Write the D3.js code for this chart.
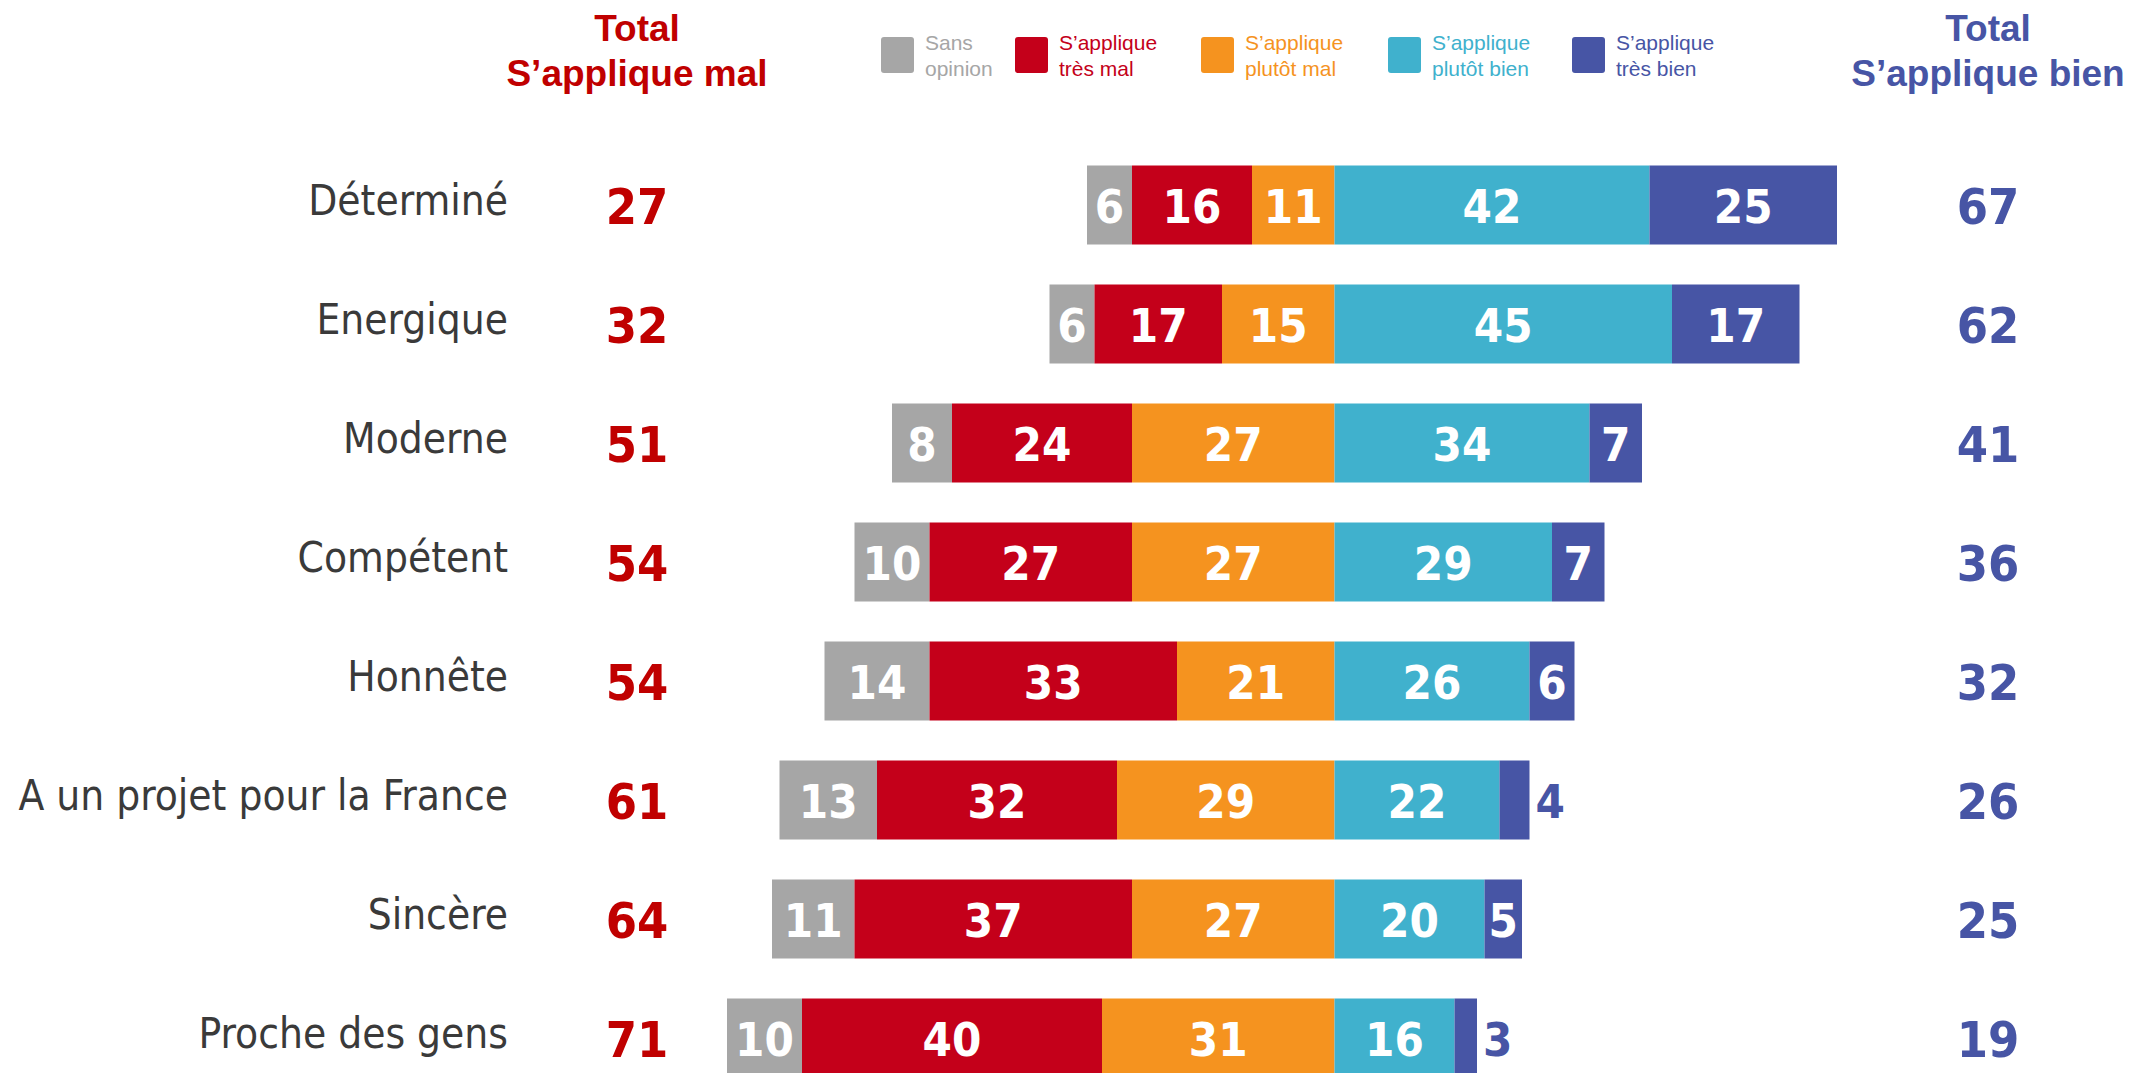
<!DOCTYPE html>
<html>
<head>
<meta charset="utf-8">
<script src="https://cdn.jsdelivr.net/npm/d3@7"></script>
<style>
  body { margin: 0; background: #fff; }
  svg { display: block; }
</style>
</head>
<body>
<div id="viz"></div>
<script>
let w = 2131;
let h = 1073;

// data
let categories = ["Déterminé", "Energique", "Moderne", "Compétent", "Honnête", "A un projet pour la France", "Sincère", "Proche des gens"];
let sansOpinion  = [6, 6, 8, 10, 14, 13, 11, 10];
let tresMal      = [16, 17, 24, 27, 33, 32, 37, 40];
let plutotMal    = [11, 15, 27, 27, 21, 29, 27, 31];
let plutotBien   = [42, 45, 34, 29, 26, 22, 20, 16];
let tresBien     = [25, 17, 7, 7, 6, 4, 5, 3];
let totalMal     = [27, 32, 51, 54, 54, 61, 64, 71];
let totalBien    = [67, 62, 41, 36, 32, 26, 25, 19];

let seriesNames = [["Sans", "opinion"], ["S’applique", "très mal"], ["S’applique", "plutôt mal"], ["S’applique", "plutôt bien"], ["S’applique", "très bien"]];
let colors = ["#a6a6a6", "#c4001a", "#f5931f", "#40b1cd", "#4755a5"];
let legendText = ["#a6a6a6", "#c4001a", "#f5931f", "#40b1cd", "#4755a5"];
let redTotal = "#c00000";
let blueTotal = "#4755a5";

let condensed = "'DejaVu Sans Condensed', 'DejaVu Sans', sans-serif";
let arial = "'Liberation Sans', Arial, sans-serif";

let viz = d3.select("#viz").append("svg")
  .attr("width", w)
  .attr("height", h)
  .attr("viewBox", "0 0 " + w + " " + h);

// scales
let xScale = d3.scaleLinear().domain([-90, 90]).range([1334.5 - 675, 1334.5 + 675]);
let step = 119;
let yScale = d3.scaleBand()
  .domain(categories)
  .range([145.5, 145.5 + categories.length * step])
  .paddingInner(40 / 119)
  .paddingOuter(20 / 119);

// build segments per row
let rows = categories.map((c, i) => {
  let vals = [sansOpinion[i], tresMal[i], plutotMal[i], plutotBien[i], tresBien[i]];
  let segs = [];
  let x0 = -(vals[0] + vals[1] + vals[2]);
  vals.forEach((v, k) => {
    segs.push({ k: k, value: v, x0: x0, x1: x0 + v, cat: c });
    x0 += v;
  });
  return { cat: c, segs: segs, mal: totalMal[i], bien: totalBien[i] };
});

// headers
let headerMal = viz.append("text")
  .attr("text-anchor", "middle")
  .attr("font-family", arial).attr("font-weight", "bold").attr("font-size", 37)
  .attr("fill", redTotal);
headerMal.append("tspan").attr("x", 637).attr("y", 41).text("Total");
headerMal.append("tspan").attr("x", 637).attr("y", 86).text("S’applique mal");

let headerBien = viz.append("text")
  .attr("text-anchor", "middle")
  .attr("font-family", arial).attr("font-weight", "bold").attr("font-size", 37)
  .attr("fill", blueTotal);
headerBien.append("tspan").attr("x", 1988).attr("y", 41).text("Total");
headerBien.append("tspan").attr("x", 1988).attr("y", 86).text("S’applique bien");

// legend
let legendX = [881, 1015, 1201, 1388, 1572];
let legend = viz.append("g").attr("class", "legend");
let items = legend.selectAll("g").data(seriesNames).enter().append("g")
  .attr("transform", (d, i) => "translate(" + legendX[i] + ",0)");
items.append("rect")
  .attr("x", 0).attr("y", 37)
  .attr("width", 33).attr("height", 36)
  .attr("rx", 3)
  .attr("fill", (d, i) => colors[i]);
items.append("text")
  .attr("font-family", arial).attr("font-size", 21)
  .attr("fill", (d, i) => legendText[i])
  .each(function(d) {
    let t = d3.select(this);
    t.append("tspan").attr("x", 44).attr("y", 50).text(d[0]);
    t.append("tspan").attr("x", 44).attr("y", 76).text(d[1]);
  });

// category labels
viz.append("g").selectAll("text").data(categories).enter().append("text")
  .attr("x", 508)
  .attr("y", d => yScale(d) + yScale.bandwidth() / 2 - 5)
  .attr("dy", "0.35em")
  .attr("text-anchor", "end")
  .attr("font-family", condensed).attr("font-size", 42)
  .attr("fill", "#3a3a3a")
  .text(d => d);

// totals
viz.append("g").selectAll("text").data(rows).enter().append("text")
  .attr("x", 637)
  .attr("y", d => yScale(d.cat) + yScale.bandwidth() / 2 + 1)
  .attr("dy", "0.36em")
  .attr("text-anchor", "middle")
  .attr("font-family", condensed).attr("font-weight", "bold").attr("font-size", 50)
  .attr("fill", redTotal)
  .text(d => d.mal);

viz.append("g").selectAll("text").data(rows).enter().append("text")
  .attr("x", 1988)
  .attr("y", d => yScale(d.cat) + yScale.bandwidth() / 2 + 1)
  .attr("dy", "0.36em")
  .attr("text-anchor", "middle")
  .attr("font-family", condensed).attr("font-weight", "bold").attr("font-size", 50)
  .attr("fill", blueTotal)
  .text(d => d.bien);

// bars
let rowGroups = viz.append("g").attr("class", "bars").selectAll("g").data(rows).enter().append("g")
  .attr("transform", d => "translate(0," + yScale(d.cat) + ")");

rowGroups.selectAll("rect").data(d => d.segs).enter().append("rect")
  .attr("x", d => xScale(d.x0))
  .attr("y", 0)
  .attr("width", d => xScale(d.x1) - xScale(d.x0))
  .attr("height", yScale.bandwidth())
  .attr("fill", d => colors[d.k]);

rowGroups.selectAll("text").data(d => d.segs).enter().append("text")
  .attr("x", d => d.value < 5 ? xScale(d.x1) + 6 : (xScale(d.x0) + xScale(d.x1)) / 2)
  .attr("y", yScale.bandwidth() / 2 + 1)
  .attr("dy", "0.36em")
  .attr("text-anchor", d => d.value < 5 ? "start" : "middle")
  .attr("font-family", condensed).attr("font-weight", "bold").attr("font-size", 47)
  .attr("fill", d => d.value < 5 ? colors[d.k] : "#ffffff")
  .text(d => d.value);
</script>
</body>
</html>
